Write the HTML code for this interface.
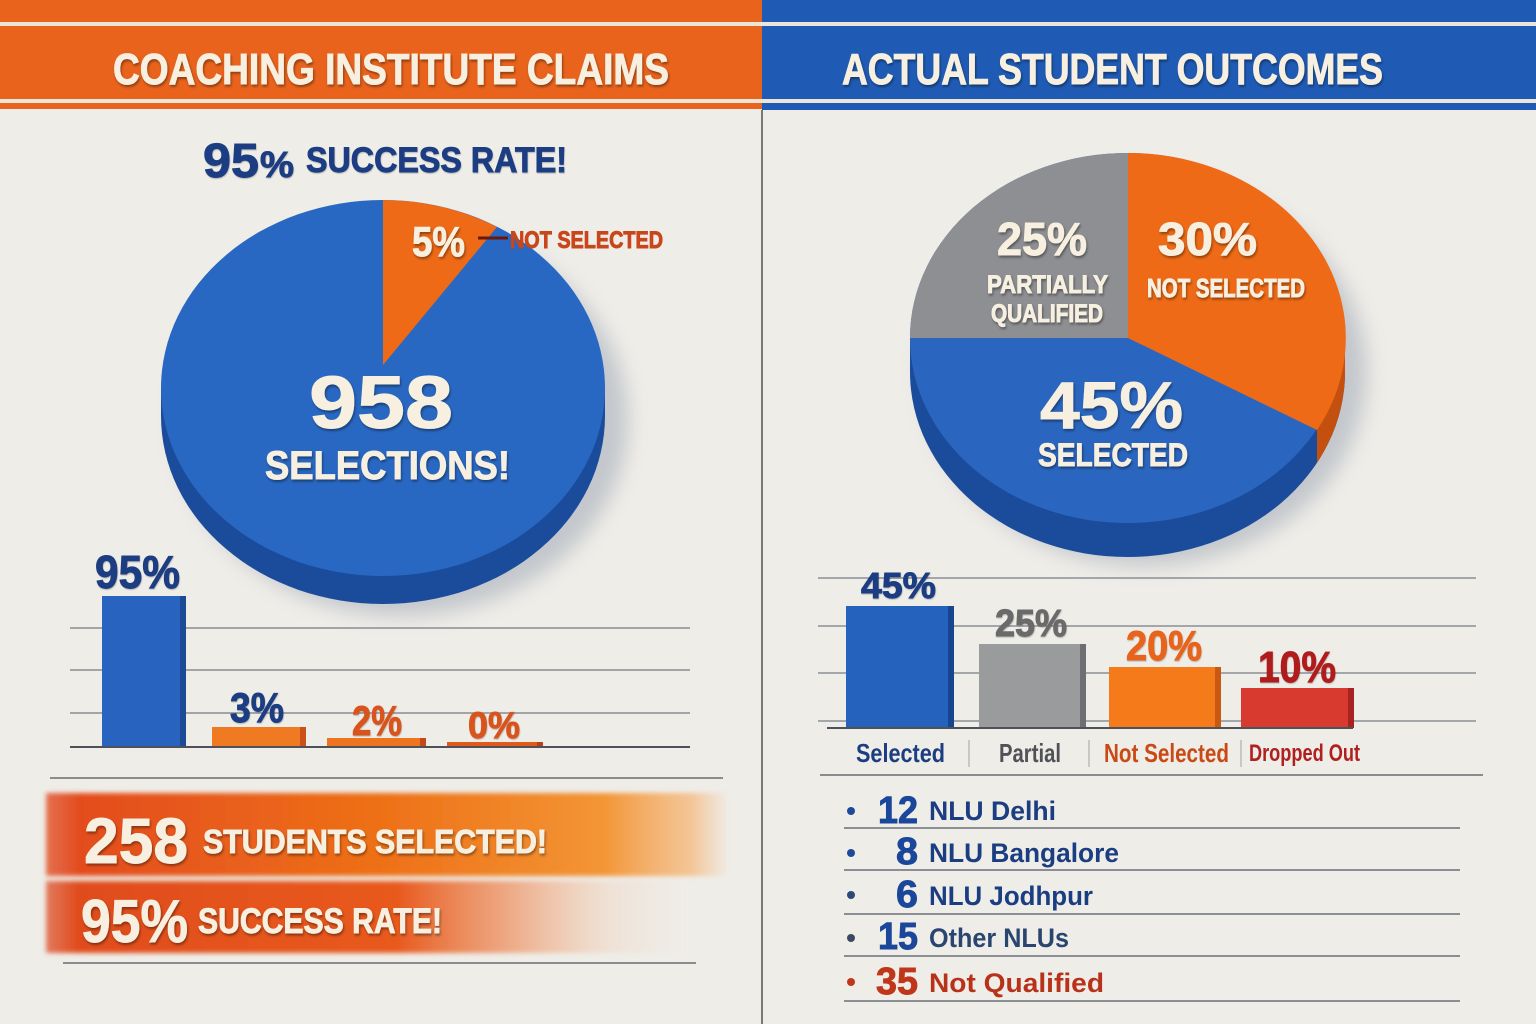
<!DOCTYPE html>
<html>
<head>
<meta charset="utf-8">
<style>
html,body{margin:0;padding:0;background:#efede8;}
svg{display:block;}
text{font-family:"Liberation Sans",Arial,sans-serif;font-weight:bold;}
.h{stroke-width:0.9;paint-order:stroke;}
</style>
</head>
<body>
<svg width="1536" height="1024" viewBox="0 0 1536 1024" xmlns="http://www.w3.org/2000/svg">
<defs>
  <filter id="ts" x="-10%" y="-30%" width="120%" height="160%">
    <feDropShadow dx="1" dy="2" stdDeviation="1.2" flood-color="#000" flood-opacity="0.4"/>
  </filter>
  <filter id="ts2" x="-10%" y="-30%" width="120%" height="160%">
    <feDropShadow dx="0.5" dy="1" stdDeviation="0.6" flood-color="#000" flood-opacity="0.25"/>
  </filter>
  <filter id="blur10" x="-30%" y="-30%" width="160%" height="160%">
    <feGaussianBlur stdDeviation="10"/>
  </filter>
  <filter id="blur2" x="-10%" y="-30%" width="120%" height="160%">
    <feGaussianBlur stdDeviation="2.5"/>
  </filter>
  <filter id="blur1"><feGaussianBlur stdDeviation="0.8"/></filter>
  <linearGradient id="bn1" x1="0" y1="0" x2="1" y2="0">
    <stop offset="0" stop-color="#e0461d" stop-opacity="0.75"/>
    <stop offset="0.05" stop-color="#e34c1c"/>
    <stop offset="0.5" stop-color="#ee7118"/>
    <stop offset="0.82" stop-color="#f39535"/>
    <stop offset="0.95" stop-color="#f5b474" stop-opacity="0.7"/>
    <stop offset="1" stop-color="#f5c090" stop-opacity="0.1"/>
  </linearGradient>
  <linearGradient id="bn2" x1="0" y1="0" x2="1" y2="0">
    <stop offset="0" stop-color="#dc4a22" stop-opacity="0.7"/>
    <stop offset="0.05" stop-color="#e04c1e"/>
    <stop offset="0.55" stop-color="#e85a1e"/>
    <stop offset="0.72" stop-color="#ec7a40" stop-opacity="0.6"/>
    <stop offset="0.88" stop-color="#f0a070" stop-opacity="0.15"/>
    <stop offset="1" stop-color="#f0b090" stop-opacity="0"/>
  </linearGradient>
  <clipPath id="orSide"><rect x="1317" y="330" width="60" height="160"/></clipPath>
</defs>

<!-- background -->
<rect x="0" y="0" width="1536" height="1024" fill="#efede8"/>

<!-- header -->
<rect x="0" y="0" width="762" height="109" fill="#e9631c"/>
<rect x="762" y="0" width="774" height="110" fill="#1f5bb5"/>
<rect x="0" y="22" width="1536" height="4" fill="#ece5da"/>
<rect x="0" y="99" width="1536" height="4" fill="#ece5da"/>
<text class="h" stroke="#f7f0e0" x="113" y="84" font-size="44" fill="#f7f0e0" textLength="556" lengthAdjust="spacingAndGlyphs" filter="url(#ts)">COACHING INSTITUTE CLAIMS</text>
<text class="h" stroke="#f7f0e0" x="842" y="84" font-size="44" fill="#f7f0e0" textLength="541" lengthAdjust="spacingAndGlyphs" filter="url(#ts)">ACTUAL STUDENT OUTCOMES</text>

<!-- divider -->
<line x1="762" y1="110" x2="762" y2="1024" stroke="#5a5a5a" stroke-width="1.6"/>

<!-- LEFT subtitle -->
<text class="h" stroke="#1b3d82" x="203" y="177" font-size="48" fill="#1b3d82" textLength="56" lengthAdjust="spacingAndGlyphs" filter="url(#ts2)">95</text>
<text class="h" stroke="#1b3d82" x="260" y="177" font-size="36" fill="#1b3d82" textLength="34" lengthAdjust="spacingAndGlyphs" filter="url(#ts2)">%</text>
<text class="h" stroke="#1b3d82" x="306" y="172" font-size="35" fill="#1b3d82" textLength="261" lengthAdjust="spacingAndGlyphs" filter="url(#ts2)">SUCCESS RATE!</text>
<line x1="53" y1="187" x2="719" y2="187" stroke="#5a5f68" stroke-width="2" filter="url(#blur1)"/>

<!-- LEFT pie -->
<ellipse cx="402" cy="420" rx="226" ry="196" fill="#8e99aa" opacity="0.45" filter="url(#blur10)"/>
<ellipse cx="383" cy="416" rx="222" ry="188" fill="#1b4c9c"/>
<rect x="161" y="388" width="444" height="28" fill="#1b4c9c"/>
<ellipse cx="383" cy="388" rx="222" ry="188" fill="#2968c2"/>
<path d="M383,365 L383,200 A222,188 0 0,1 497,227 Z" fill="#ee6a16"/>
<text class="h" stroke="#f7f0e0" x="412" y="256" font-size="42" fill="#f7f0e0" textLength="53" lengthAdjust="spacingAndGlyphs" filter="url(#ts)">5%</text>
<line x1="478" y1="238" x2="508" y2="238" stroke="#6a1808" stroke-width="3"/>
<text class="h" stroke="#c8461a" x="510" y="248" font-size="24" fill="#c8461a" textLength="153" lengthAdjust="spacingAndGlyphs">NOT SELECTED</text>
<text class="h" stroke="#f7f0e0" x="309" y="428" font-size="74" fill="#f7f0e0" textLength="144" lengthAdjust="spacingAndGlyphs" filter="url(#ts)">958</text>
<text class="h" stroke="#f7f0e0" x="265" y="479" font-size="40" fill="#f7f0e0" textLength="245" lengthAdjust="spacingAndGlyphs" filter="url(#ts)">SELECTIONS!</text>

<!-- LEFT bars -->
<g stroke-width="1.6">
  <line x1="70" y1="628" x2="690" y2="628" stroke="#8a8c90"/>
  <line x1="70" y1="670" x2="690" y2="670" stroke="#8a8c90"/>
  <line x1="70" y1="713" x2="690" y2="713" stroke="#8a8c90"/>
</g>
<rect x="102" y="596" width="78" height="151" fill="#2763bf"/>
<rect x="180" y="596" width="6" height="151" fill="#1b4a96"/>
<rect x="212" y="727" width="88" height="20" fill="#f07a22"/>
<rect x="300" y="727" width="6" height="20" fill="#c9521a"/>
<rect x="327" y="738" width="93" height="9" fill="#ee7420"/>
<rect x="420" y="738" width="6" height="9" fill="#c24a18"/>
<rect x="447" y="742" width="90" height="5" fill="#e05a1c"/>
<rect x="537" y="742" width="6" height="5" fill="#b8401a"/>
<line x1="70" y1="747" x2="690" y2="747" stroke="#4e5258" stroke-width="2"/>
<line x1="50" y1="778" x2="723" y2="778" stroke="#6a6d72" stroke-width="1.6"/>
<text class="h" stroke="#1b3d82" x="95" y="588" font-size="46" fill="#1b3d82" textLength="85" lengthAdjust="spacingAndGlyphs" filter="url(#ts2)">95%</text>
<text class="h" stroke="#1b3d82" x="230" y="722" font-size="42" fill="#1b3d82" textLength="54" lengthAdjust="spacingAndGlyphs" filter="url(#ts2)">3%</text>
<text class="h" stroke="#d9531c" x="352" y="735" font-size="42" fill="#d9531c" textLength="50" lengthAdjust="spacingAndGlyphs" filter="url(#ts2)">2%</text>
<text class="h" stroke="#d9531c" x="468" y="738" font-size="37" fill="#d9531c" textLength="52" lengthAdjust="spacingAndGlyphs" filter="url(#ts2)">0%</text>

<!-- LEFT banners -->
<rect x="46" y="793" width="680" height="83" fill="url(#bn1)" filter="url(#blur2)"/>
<rect x="46" y="881" width="640" height="72" fill="url(#bn2)" filter="url(#blur2)"/>
<line x1="63" y1="963" x2="696" y2="963" stroke="#6a6d72" stroke-width="1.6"/>
<text class="h" stroke="#f7f0e0" x="84" y="863" font-size="64" fill="#f7f0e0" textLength="104" lengthAdjust="spacingAndGlyphs" filter="url(#ts)">258</text>
<text class="h" stroke="#f7f0e0" x="203" y="853" font-size="33" fill="#f7f0e0" textLength="344" lengthAdjust="spacingAndGlyphs" filter="url(#ts)">STUDENTS SELECTED!</text>
<text class="h" stroke="#f7f0e0" x="81" y="942" font-size="60" fill="#f7f0e0" textLength="107" lengthAdjust="spacingAndGlyphs" filter="url(#ts)">95%</text>
<text class="h" stroke="#f7f0e0" x="198" y="933" font-size="35" fill="#f7f0e0" textLength="244" lengthAdjust="spacingAndGlyphs" filter="url(#ts)">SUCCESS RATE!</text>

<!-- RIGHT pie -->
<ellipse cx="1145" cy="372" rx="222" ry="194" fill="#8e99aa" opacity="0.45" filter="url(#blur10)"/>
<ellipse cx="1127.5" cy="372" rx="217.5" ry="185" fill="#1b4c9c"/>
<rect x="910" y="338" width="435" height="34" fill="#1b4c9c"/>
<g clip-path="url(#orSide)">
  <ellipse cx="1127.5" cy="372" rx="217.5" ry="185" fill="#c4500f"/>
  <rect x="910" y="338" width="435" height="34" fill="#c4500f"/>
</g>
<ellipse cx="1127.5" cy="338" rx="217.5" ry="185" fill="#2a66bf"/>
<path d="M1128,338 L910,338 A217.5,185 0 0,1 1128,153 Z" fill="#8e8f93"/>
<path d="M1128,338 L1128,153 A217.5,185 0 0,1 1317,430 Z" fill="#ef6a16"/>
<text class="h" stroke="#f7f0e0" x="997" y="255" font-size="46" fill="#f7f0e0" textLength="90" lengthAdjust="spacingAndGlyphs" filter="url(#ts)">25%</text>
<text class="h" stroke="#f7f0e0" x="987" y="293" font-size="25" fill="#f7f0e0" textLength="121" lengthAdjust="spacingAndGlyphs" filter="url(#ts)">PARTIALLY</text>
<text class="h" stroke="#f7f0e0" x="991" y="322" font-size="25" fill="#f7f0e0" textLength="112" lengthAdjust="spacingAndGlyphs" filter="url(#ts)">QUALIFIED</text>
<text class="h" stroke="#f7f0e0" x="1158" y="255" font-size="46" fill="#f7f0e0" textLength="99" lengthAdjust="spacingAndGlyphs" filter="url(#ts)">30%</text>
<text class="h" stroke="#f7f0e0" x="1147" y="297" font-size="26" fill="#f7f0e0" textLength="158" lengthAdjust="spacingAndGlyphs" filter="url(#ts)">NOT SELECTED</text>
<text class="h" stroke="#f7f0e0" x="1040" y="428" font-size="66" fill="#f7f0e0" textLength="143" lengthAdjust="spacingAndGlyphs" filter="url(#ts)">45%</text>
<text class="h" stroke="#f7f0e0" x="1038" y="466" font-size="32" fill="#f7f0e0" textLength="150" lengthAdjust="spacingAndGlyphs" filter="url(#ts)">SELECTED</text>

<!-- RIGHT bars -->
<g stroke="#8a8f96" stroke-width="1.6">
  <line x1="818" y1="578" x2="1476" y2="578"/>
  <line x1="818" y1="626" x2="1476" y2="626"/>
  <line x1="818" y1="673" x2="1476" y2="673"/>
  <line x1="818" y1="721" x2="1476" y2="721"/>
</g>
<rect x="846" y="606" width="102" height="122" fill="#2462bd"/>
<rect x="948" y="606" width="6" height="122" fill="#17468f"/>
<rect x="979" y="644" width="101" height="84" fill="#9a9b9d"/>
<rect x="1080" y="644" width="6" height="84" fill="#6e6f72"/>
<rect x="1109" y="667" width="106" height="61" fill="#f47a1a"/>
<rect x="1215" y="667" width="6" height="61" fill="#c85812"/>
<rect x="1241" y="688" width="107" height="40" fill="#d83a30"/>
<rect x="1348" y="688" width="6" height="40" fill="#a82222"/>
<line x1="827" y1="728" x2="1353" y2="728" stroke="#4e5258" stroke-width="2"/>
<text class="h" stroke="#1b3d82" x="861" y="598" font-size="36" fill="#1b3d82" textLength="75" lengthAdjust="spacingAndGlyphs" filter="url(#ts2)">45%</text>
<text class="h" stroke="#6b6b6b" x="995" y="636" font-size="38" fill="#6b6b6b" textLength="72" lengthAdjust="spacingAndGlyphs" filter="url(#ts2)">25%</text>
<text class="h" stroke="#e8641a" x="1126" y="660" font-size="42" fill="#e8641a" textLength="76" lengthAdjust="spacingAndGlyphs" filter="url(#ts2)">20%</text>
<text class="h" stroke="#b01e1e" x="1258" y="682" font-size="44" fill="#b01e1e" textLength="78" lengthAdjust="spacingAndGlyphs" filter="url(#ts2)">10%</text>
<g stroke="#b8b8b8" stroke-width="1.4">
  <line x1="969" y1="740" x2="969" y2="767"/>
  <line x1="1089" y1="740" x2="1089" y2="767"/>
  <line x1="1241" y1="740" x2="1241" y2="767"/>
</g>
<text x="856" y="762" font-size="26" fill="#1b3d82" textLength="89" lengthAdjust="spacingAndGlyphs">Selected</text>
<text x="999" y="762" font-size="26" fill="#505257" textLength="62" lengthAdjust="spacingAndGlyphs">Partial</text>
<text x="1104" y="762" font-size="26" fill="#c94a14" textLength="125" lengthAdjust="spacingAndGlyphs">Not Selected</text>
<text x="1249" y="761" font-size="24" fill="#b02020" textLength="111" lengthAdjust="spacingAndGlyphs">Dropped Out</text>
<line x1="820" y1="775" x2="1483" y2="775" stroke="#6a6d72" stroke-width="1.6"/>

<!-- RIGHT list -->
<g stroke="#6a6f78" stroke-width="1.6">
  <line x1="844" y1="828" x2="1460" y2="828"/>
  <line x1="844" y1="870" x2="1460" y2="870"/>
  <line x1="844" y1="914" x2="1460" y2="914"/>
  <line x1="844" y1="956" x2="1460" y2="956"/>
  <line x1="844" y1="1001" x2="1460" y2="1001"/>
</g>
<circle cx="851" cy="811" r="4" fill="#1e4a9a"/>
<circle cx="851" cy="853" r="4" fill="#1e4a9a"/>
<circle cx="851" cy="895" r="4" fill="#2c4a78"/>
<circle cx="851" cy="938" r="4" fill="#3a4a62"/>
<circle cx="851" cy="982" r="4" fill="#c0361a"/>

<text class="h" stroke="#1b479a" x="878" y="823" font-size="38" fill="#1b479a" textLength="40" lengthAdjust="spacingAndGlyphs">12</text>
<text x="929" y="820" font-size="27" fill="#1b3d82" textLength="127" lengthAdjust="spacingAndGlyphs">NLU Delhi</text>

<text class="h" stroke="#1b479a" x="896" y="864" font-size="38" fill="#1b479a" textLength="22" lengthAdjust="spacingAndGlyphs">8</text>
<text x="929" y="862" font-size="27" fill="#1b3d82" textLength="190" lengthAdjust="spacingAndGlyphs">NLU Bangalore</text>

<text class="h" stroke="#1b479a" x="896" y="907" font-size="38" fill="#1b479a" textLength="22" lengthAdjust="spacingAndGlyphs">6</text>
<text x="929" y="905" font-size="27" fill="#1b3d82" textLength="164" lengthAdjust="spacingAndGlyphs">NLU Jodhpur</text>

<text class="h" stroke="#1b479a" x="878" y="949" font-size="38" fill="#1b479a" textLength="40" lengthAdjust="spacingAndGlyphs">15</text>
<text x="929" y="947" font-size="27" fill="#2a4670" textLength="140" lengthAdjust="spacingAndGlyphs">Other NLUs</text>

<text class="h" stroke="#c0361a" x="876" y="994" font-size="38" fill="#c0361a" textLength="42" lengthAdjust="spacingAndGlyphs">35</text>
<text x="929" y="992" font-size="27" fill="#b8321a" textLength="175" lengthAdjust="spacingAndGlyphs">Not Qualified</text>
</svg>
</body>
</html>
